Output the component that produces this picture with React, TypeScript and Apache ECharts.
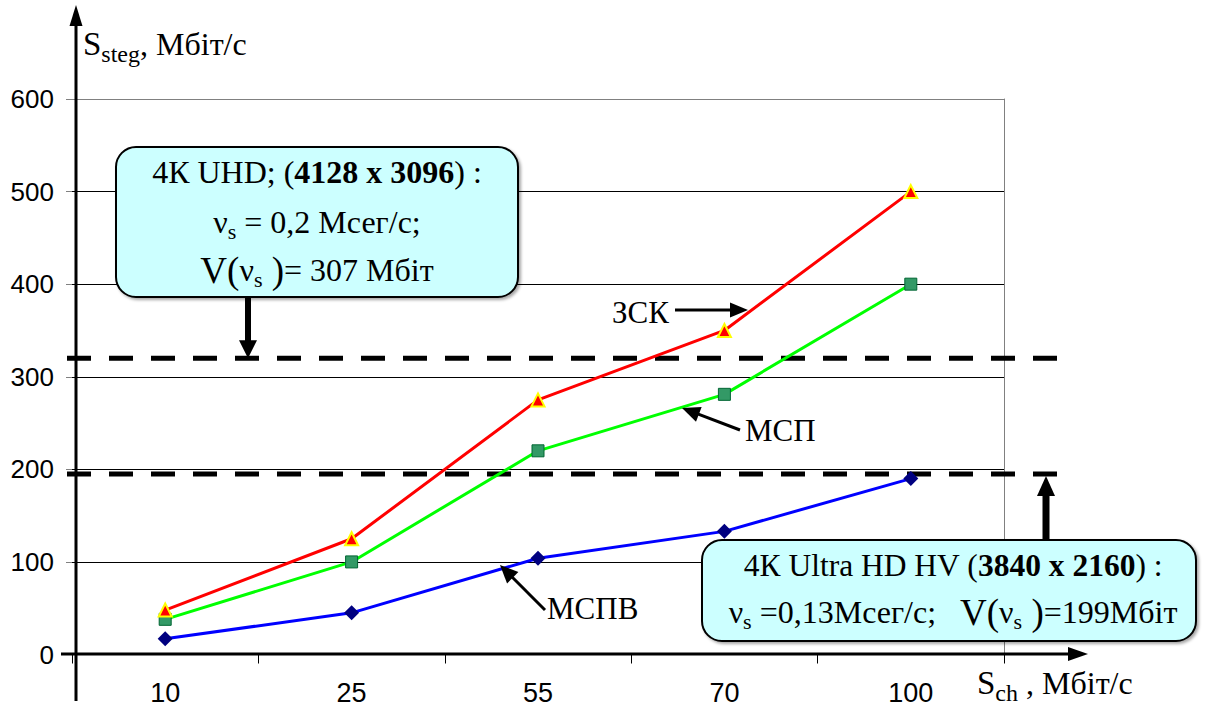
import React, { useEffect, useRef } from "react";
import * as echarts from "echarts";

const categories = ["10", "25", "55", "70", "100"];
const zskValues = [48, 125, 275, 350, 500];
const mspValues = [38, 100, 220, 281, 400];
const mspvValues = [17, 45, 104, 133, 190];
const seriesNames = ["ЗСК", "МСП", "МСПВ"];
const thresholdValues = [320, 195];
const yMin = 0;
const yMax = 600;
const yStep = 100;

const SERIF = "'Liberation Serif', 'Times New Roman', serif";
const SANS = "'Liberation Sans', Arial, sans-serif";

function arrow(x1: number, y1: number, x2: number, y2: number, w: number, hl: number, hw: number, z = 20) {
  const dx = x2 - x1, dy = y2 - y1;
  const L = Math.hypot(dx, dy);
  const ux = dx / L, uy = dy / L;
  const bx = x2 - ux * hl, by = y2 - uy * hl;
  const px = -uy, py = ux;
  return [
    { type: "line", z, silent: true, shape: { x1, y1, x2: bx + ux * 2, y2: by + uy * 2 }, style: { stroke: "#000", lineWidth: w } },
    {
      type: "polygon", z, silent: true,
      shape: { points: [[x2, y2], [bx + px * hw, by + py * hw], [bx - px * hw, by - py * hw]] },
      style: { fill: "#000" },
    },
  ];
}

const tok = (size: number, extra: any = {}) => ({ fontSize: size, fontFamily: SERIF, fill: "#000", lineHeight: 40, ...extra });
const sub = (size = 22) => ({ fontSize: size, fontFamily: SERIF, fill: "#000", lineHeight: size, verticalAlign: "bottom" });
const richSet = (base: number, lh = 40) => ({
  n: tok(base, { lineHeight: lh }),
  b: tok(base, { fontWeight: "bold", lineHeight: lh }),
  v: tok(base + 5, { lineHeight: lh }),
  S: tok(33, { lineHeight: lh }),
  s: sub(22),
  t: sub(24),
});

export default function App() {
  const ref = useRef<HTMLDivElement>(null);
  useEffect(() => {
    if (!ref.current) return;
    const chart = echarts.init(ref.current, undefined, { renderer: "svg" });
    chart.setOption({
      animation: false,
      backgroundColor: "#fff",
      grid: { left: 72, right: 202, top: 99, bottom: 48, containLabel: false },
      xAxis: {
        type: "category",
        data: categories,
        boundaryGap: true,
        axisLine: { show: true, lineStyle: { color: "#808080", width: 1 } },
        axisTick: { show: true, length: 9, lineStyle: { color: "#000", width: 1 } },
        axisLabel: { fontSize: 27, fontFamily: SANS, color: "#000", margin: 28, lineHeight: 20 },
        splitLine: { show: false },
      },
      yAxis: [
        {
          type: "value", min: yMin, max: yMax, interval: yStep,
          axisLine: { show: false },
          axisTick: { show: true, length: 6, lineStyle: { color: "#808080" } },
          axisLabel: { fontSize: 26, fontFamily: SANS, color: "#000", margin: 18 },
          splitLine: { show: true, lineStyle: { color: ["#808080", "#000", "#000", "#000", "#000", "#000", "#808080"], width: 1 } },
        },
        {
          type: "value", min: yMin, max: yMax, interval: yStep, position: "right",
          axisLine: { show: true, lineStyle: { color: "#808080", width: 1 } },
          axisTick: { show: false }, axisLabel: { show: false }, splitLine: { show: false },
        },
      ],
      series: [
        {
          name: seriesNames[0], type: "line", data: zskValues, symbol: "triangle", symbolSize: 13, showSymbol: true,
          lineStyle: { color: "#ff0000", width: 3 }, itemStyle: { color: "#ff0000", borderColor: "#ffff00", borderWidth: 2 },
          z: 5, silent: true,
        },
        {
          name: seriesNames[1], type: "line", data: mspValues, symbol: "rect", symbolSize: 12, showSymbol: true,
          lineStyle: { color: "#00ff00", width: 3 }, itemStyle: { color: "#339966", borderColor: "#006633", borderWidth: 1 },
          z: 4, silent: true,
        },
        {
          name: seriesNames[2], type: "line", data: mspvValues, symbol: "diamond", symbolSize: 15, showSymbol: true,
          lineStyle: { color: "#0000ff", width: 3 }, itemStyle: { color: "#000080" },
          z: 3, silent: true,
        },
      ],
    });

    const yHi = chart.convertToPixel({ yAxisIndex: 0 }, thresholdValues[0]) as number;
    const yLo = chart.convertToPixel({ yAxisIndex: 0 }, thresholdValues[1]) as number;

    const txt = (x: number, y: number, text: string, base = 32, align = "center", lh = 40) => ({
      type: "text", z: 41, silent: true, x, y,
      style: { text, align, verticalAlign: "middle", fill: "#000", rich: richSet(base, lh) },
    });

    const elements: any[] = [
      // axes arrows
      { type: "line", z: 30, silent: true, shape: { x1: 76, y1: 701, x2: 76, y2: 24 }, style: { stroke: "#000", lineWidth: 3 } },
      { type: "polygon", z: 30, silent: true, shape: { points: [[76, 5], [69.5, 26], [82.5, 26]] }, style: { fill: "#000" } },
      { type: "line", z: 30, silent: true, shape: { x1: 61, y1: 654, x2: 1070, y2: 654 }, style: { stroke: "#000", lineWidth: 3 } },
      { type: "polygon", z: 30, silent: true, shape: { points: [[1088, 654], [1068, 647], [1068, 661]] }, style: { fill: "#000" } },
      // dashed thresholds
      { type: "line", z: 1, silent: true, shape: { x1: 67, y1: yHi, x2: 1058, y2: yHi }, style: { stroke: "#000", lineWidth: 5, lineDash: [24, 18] } },
      { type: "line", z: 1, silent: true, shape: { x1: 67, y1: yLo, x2: 1058, y2: yLo }, style: { stroke: "#000", lineWidth: 5, lineDash: [24, 18] } },
      // box 1
      {
        type: "rect", z: 40, silent: true, shape: { x: 116, y: 147, width: 402, height: 150, r: 20 },
        style: { fill: "#ccffff", stroke: "#000", lineWidth: 2, shadowBlur: 3, shadowOffsetX: 2, shadowOffsetY: 2, shadowColor: "rgba(0,0,0,0.35)" },
      },
      txt(317, 172, "{n|4К UHD; (}{b|4128 x 3096}{n|) :}"),
      txt(317, 222, "{n|ν}{s|s}{n| = 0,2 Мсег/с;}"),
      txt(317, 270, "{v|V(}{n|ν}{s|s}{v| )}{n|= 307 Мбіт}"),
      ...arrow(248, 297, 248, yHi, 6, 18, 9, 35),
      // box 2
      {
        type: "rect", z: 40, silent: true, shape: { x: 702, y: 540, width: 494, height: 101, r: 20 },
        style: { fill: "#ccffff", stroke: "#000", lineWidth: 2, shadowBlur: 3, shadowOffsetX: 2, shadowOffsetY: 2, shadowColor: "rgba(0,0,0,0.35)" },
      },
      txt(953, 565, "{n|4К Ultra HD HV (}{b|3840 x 2160}{n|) :}", 31.5),
      txt(953, 612, "{n|ν}{s|s}{n| =0,13Мсег/с;   }{v|V(}{n|ν}{s|s}{v| )}{n|=199Мбіт}", 32),
      ...arrow(1046, 540, 1046, yLo + 2, 7, 20, 9, 35),
      // series labels
      txt(612, 312, `{n|${seriesNames[0]}}`, 31, "left"),
      ...arrow(675, 310, 748, 310, 3, 18, 7.5, 35),
      txt(745, 430, `{n|${seriesNames[1]}}`, 31, "left"),
      ...arrow(740, 430, 682, 408, 3, 18, 8, 35),
      txt(547, 608, `{n|${seriesNames[2]}}`, 31, "left"),
      ...arrow(545, 610, 500, 565, 3, 18, 8, 35),
      // axis titles
      txt(83, 44, "{S|S}{t|steg}{n|, Мбіт/с}", 32, "left", 44),
      txt(977, 683, "{S|S}{t|ch}{n| , Мбіт/с}", 32, "left", 44),
    ];
    chart.setOption({ graphic: { elements } });
    return () => chart.dispose();
  }, []);
  return <div ref={ref} style={{ position: "fixed", left: 0, top: 0, width: 1206, height: 706 }} />;
}
